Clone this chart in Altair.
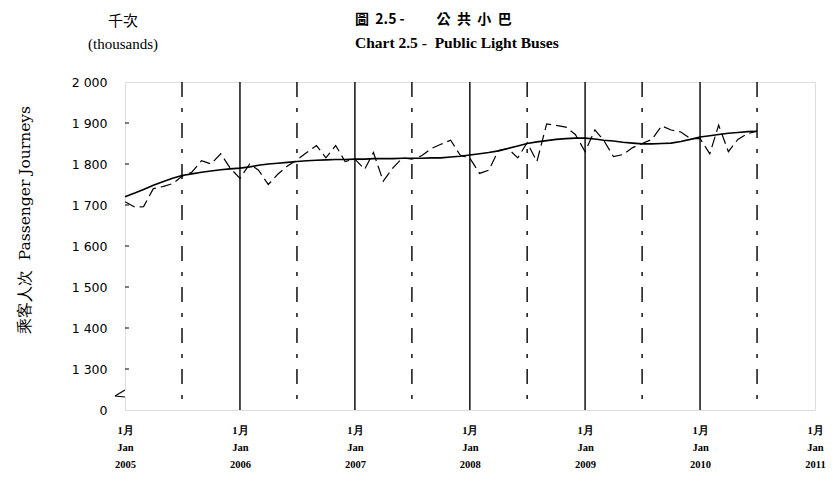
import altair as alt
import pandas as pd

# ---- data -------------------------------------------------------------
months = pd.date_range("2005-01-01", periods=67, freq="MS")

monthly = [1708, 1695, 1696, 1740, 1745, 1752, 1770, 1780, 1808, 1800,
           1825, 1790, 1765, 1800, 1785, 1750, 1775, 1795, 1810, 1828,
           1845, 1815, 1845, 1806, 1812, 1787, 1828, 1758, 1790, 1815,
           1812, 1820, 1838, 1848, 1858, 1822, 1814, 1777, 1785, 1833,
           1838, 1815, 1852, 1806, 1898, 1894, 1890, 1872, 1830, 1883,
           1858, 1818, 1823, 1840, 1850, 1860, 1893, 1883, 1878, 1862,
           1862, 1825, 1895, 1830, 1860, 1874, 1880]

trend = [1720, 1729, 1738, 1748, 1757, 1765, 1772, 1776, 1780, 1783,
         1786, 1788, 1790, 1793, 1797, 1800, 1802, 1804, 1806, 1808,
         1809, 1810, 1811, 1811, 1812, 1812, 1813, 1813, 1813, 1814,
         1814, 1814, 1815, 1815, 1817, 1819, 1822, 1825, 1828, 1832,
         1838, 1844, 1850, 1854, 1857, 1860, 1862, 1863, 1863, 1861,
         1858, 1856, 1853, 1851, 1849, 1849, 1850, 1851, 1855, 1860,
         1866, 1869, 1872, 1875, 1877, 1879, 1880]

y_ticks = [1200, 1300, 1400, 1500, 1600, 1700, 1800, 1900, 2000]
jan_years = [2005, 2006, 2007, 2008, 2009, 2010, 2011]
jan_lines = ["2006-01-01", "2007-01-01", "2008-01-01", "2009-01-01", "2010-01-01"]
jul_lines = ["2005-07-01", "2006-07-01", "2007-07-01", "2008-07-01", "2009-07-01", "2010-07-01"]

NB = "\u00a0"
title_zh = "圖" + NB * 2 + "2.5 -" + NB * 10 + (NB * 2).join("公共小巴")
title_en = "Chart 2.5 -" + NB * 2 + "Public Light Buses"
unit_zh = "千次"
unit_en = "(thousands)"
y_title = "乘客人次" + NB * 2 + "Passenger Journeys"

# ---- frames -------------------------------------------------------------
df_m = pd.DataFrame({"date": months, "value": monthly})
df_t = pd.DataFrame({"date": months, "value": trend})
df_jan = pd.DataFrame({"date": pd.to_datetime(jan_lines)})
df_jul = pd.DataFrame({"date": pd.to_datetime(jul_lines)})
df_yt = pd.DataFrame({"value": y_ticks[1:-1]})
df_one = pd.DataFrame({"k": [0]})

x_enc = alt.X(
    "date:T",
    scale=alt.Scale(domain=[alt.DateTime(year=2005, month=1, date=1),
                            alt.DateTime(year=2011, month=1, date=1)]),
    axis=alt.Axis(
        values=[alt.DateTime(year=y, month=1, date=1) for y in jan_years],
        labelExpr="['1月', 'Jan', timeFormat(datum.value, '%Y')]",
        title=None, grid=False, ticks=False, domain=False,
        labelFont="Liberation Serif", labelFontWeight="bold", labelFontSize=10.5,
        labelLineHeight=17, labelPadding=15, labelColor="#000",
        labelBaseline="top", labelFlush=False,
    ),
)
y_enc = alt.Y(
    "value:Q",
    scale=alt.Scale(domain=[1200, 2000], nice=False, zero=False),
    axis=alt.Axis(
        values=y_ticks,
        labelExpr="datum.value == 1200 ? '0' : replace(format(datum.value, ','), ',', ' ')",
        title=None, grid=False, ticks=False, domain=False,
        labelFont="DejaVu Sans", labelFontSize=12.5, labelPadding=18, labelColor="#000",
    ),
)

jan = alt.Chart(df_jan).mark_rule(color="#111", strokeWidth=1.5).encode(x=x_enc)
jul = alt.Chart(df_jul).mark_rule(color="#111", strokeWidth=1.5,
                                  strokeDash=[15, 11, 4, 11]).encode(x=x_enc)

ticks = alt.Chart(df_yt).mark_rule(color="#000", strokeWidth=1).encode(
    y=y_enc, x=alt.value(0), x2=alt.value(4))

line_m = alt.Chart(df_m).mark_line(color="#000", strokeWidth=1.2,
                                   strokeDash=[11, 5]).encode(x=x_enc, y=y_enc)
line_t = alt.Chart(df_t).mark_line(color="#000", strokeWidth=1.6).encode(x=x_enc, y=y_enc)

# axis break symbol
gap = alt.Chart(df_one).mark_rule(color="white", strokeWidth=3).encode(
    x=alt.value(0), x2=alt.value(0), y=alt.value(308), y2=alt.value(315))
brk1 = alt.Chart(df_one).mark_rule(color="#000", strokeWidth=1.2).encode(
    x=alt.value(0), y=alt.value(308), x2=alt.value(-10), y2=alt.value(314))
brk2 = alt.Chart(df_one).mark_rule(color="#000", strokeWidth=1.2).encode(
    x=alt.value(-10), y=alt.value(314), x2=alt.value(0), y2=alt.value(315))

def txt(s, x, y, font, size, weight="normal", align="center", angle=0):
    return alt.Chart(df_one).mark_text(
        text=s, font=font, fontSize=size, fontWeight=weight, align=align,
        baseline="middle", angle=angle, color="#000").encode(
        x=alt.value(x), y=alt.value(y))

texts = [
    txt(unit_zh, -2, -61, "Noto Sans CJK TC", 15),
    txt(unit_en, -2, -38, "Liberation Serif", 15),
    txt(title_zh, 230, -62, "Noto Sans CJK TC", 14, "bold", "left"),
    txt(title_en, 230, -39, "Liberation Serif", 15.5, "bold", "left"),
    txt(y_title, -100, 138, "DejaVu Serif", 15.5, "normal", "center", 270),
]

chart = alt.layer(jan, jul, ticks, line_m, line_t, gap, brk1, brk2, *texts).properties(
    width=690, height=328,
    padding={"left": 117, "top": 74, "right": 11, "bottom": 63},
    autosize=alt.AutoSizeParams(type="none"),
).configure_view(stroke="#000", strokeWidth=1.5).configure(background="white")

chart.save("out.html", embed_options={"renderer": "svg", "actions": False})
